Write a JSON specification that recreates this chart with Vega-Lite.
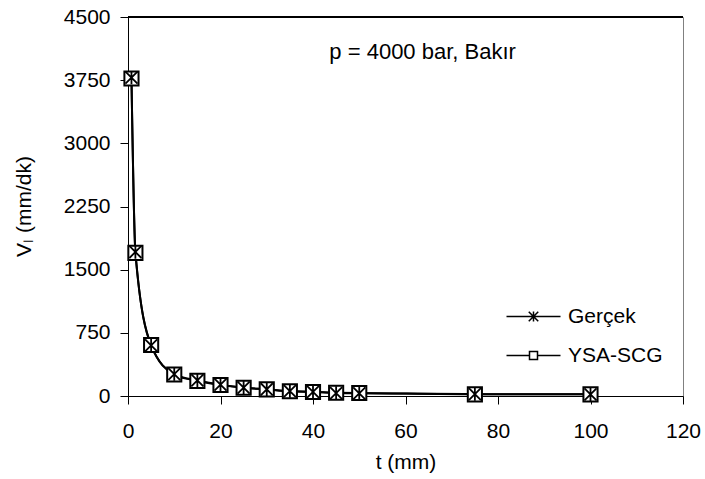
{
  "$schema": "https://vega.github.io/schema/vega-lite/v6.json",
  "width": 555,
  "height": 379,
  "autosize": "none",
  "padding": {"left": 128, "top": 17, "right": 22, "bottom": 83},
  "background": "white",
  "config": {
    "font": "Liberation Sans",
    "view": {"stroke": "#808080", "strokeWidth": 1},
    "axis": {
      "grid": false,
      "domainColor": "black",
      "domainWidth": 1,
      "tickColor": "black",
      "tickWidth": 1,
      "tickSize": 8,
      "labelColor": "black",
      "labelFontSize": 21,
      "titleColor": "black",
      "titleFontSize": 21,
      "titleFontWeight": "normal",
      "labelFlush": false,
      "labelOverlap": false
    }
  },
  "data": {
    "values": [
      {"series": "Gerçek", "t": 0.75, "v": 3780},
      {"series": "Gerçek", "t": 1.6, "v": 1710},
      {"series": "Gerçek", "t": 5, "v": 600},
      {"series": "Gerçek", "t": 10, "v": 260},
      {"series": "Gerçek", "t": 15, "v": 185},
      {"series": "Gerçek", "t": 20, "v": 135},
      {"series": "Gerçek", "t": 25, "v": 100},
      {"series": "Gerçek", "t": 30, "v": 80},
      {"series": "Gerçek", "t": 35, "v": 58},
      {"series": "Gerçek", "t": 40, "v": 50},
      {"series": "Gerçek", "t": 45, "v": 35},
      {"series": "Gerçek", "t": 50, "v": 32},
      {"series": "Gerçek", "t": 75, "v": 22},
      {"series": "Gerçek", "t": 100, "v": 20},
      {"series": "YSA-SCG", "t": 0.75, "v": 3770},
      {"series": "YSA-SCG", "t": 1.6, "v": 1700},
      {"series": "YSA-SCG", "t": 5, "v": 605},
      {"series": "YSA-SCG", "t": 10, "v": 255},
      {"series": "YSA-SCG", "t": 15, "v": 180},
      {"series": "YSA-SCG", "t": 20, "v": 130},
      {"series": "YSA-SCG", "t": 25, "v": 98},
      {"series": "YSA-SCG", "t": 30, "v": 78},
      {"series": "YSA-SCG", "t": 35, "v": 56},
      {"series": "YSA-SCG", "t": 40, "v": 48},
      {"series": "YSA-SCG", "t": 45, "v": 38},
      {"series": "YSA-SCG", "t": 50, "v": 36},
      {"series": "YSA-SCG", "t": 75, "v": 20},
      {"series": "YSA-SCG", "t": 100, "v": 20}
    ]
  },
  "layer": [
    {
      "mark": {"type": "line", "interpolate": "monotone", "color": "black", "strokeWidth": 2},
      "encoding": {
        "x": {
          "field": "t", "type": "quantitative",
          "scale": {"domain": [0, 120], "nice": false},
          "axis": {
            "title": "t (mm)",
            "values": [0, 20, 40, 60, 80, 100, 120],
            "format": "d",
            "labelPadding": 16,
            "titleBaseline": "alphabetic",
            "titleY": 72
          }
        },
        "y": {
          "field": "v", "type": "quantitative",
          "scale": {"domain": [0, 4500], "nice": false},
          "axis": {
            "title": "Vₗ (mm/dk)",
            "values": [0, 750, 1500, 2250, 3000, 3750, 4500],
            "format": "d",
            "labelPadding": 10,
            "titleBaseline": "alphabetic",
            "titleX": -98,
            "titleY": 189
          }
        },
        "detail": {"field": "series", "type": "nominal"}
      }
    },
    {
      "transform": [{"filter": "datum.series === 'YSA-SCG'"}],
      "mark": {"type": "point", "shape": "square", "size": 200, "filled": true, "fill": "white", "stroke": "black", "strokeWidth": 2, "opacity": 1},
      "encoding": {
        "x": {"field": "t", "type": "quantitative"},
        "y": {"field": "v", "type": "quantitative"}
      }
    },
    {
      "transform": [{"filter": "datum.series === 'Gerçek'"}],
      "mark": {"type": "point", "shape": "M0,-0.95V0.95M-0.85,-0.85L0.85,0.85M-0.85,0.85L0.85,-0.85", "size": 200, "filled": false, "stroke": "black", "strokeWidth": 1.8, "opacity": 1},
      "encoding": {
        "x": {"field": "t", "type": "quantitative"},
        "y": {"field": "v", "type": "quantitative"}
      }
    },
    {
      "mark": {"type": "rule", "color": "black", "strokeWidth": 1},
      "encoding": {"y": {"datum": 4500}}
    },
    {
      "data": {"values": [{"label": "p = 4000 bar, Bakır", "t": 63.7, "v": 4005}]},
      "mark": {"type": "text", "fontSize": 22, "align": "center", "baseline": "alphabetic", "color": "black"},
      "encoding": {
        "x": {"field": "t", "type": "quantitative"},
        "y": {"field": "v", "type": "quantitative"},
        "text": {"field": "label"}
      }
    },
    {
      "transform": [{"filter": "datum.t < 0"}],
      "mark": {"type": "point", "filled": false, "color": "black", "strokeWidth": 1.5, "opacity": 1},
      "encoding": {
        "shape": {
          "field": "series", "type": "nominal",
          "scale": {
            "domain": ["Gerçek", "YSA-SCG"],
            "range": [
              "M-5.4,0H5.4M0,-1V1M-0.95,-0.95L0.95,0.95M-0.95,0.95L0.95,-0.95",
              "M-5.4,0H-0.8M0.8,0H5.4M-0.8,-0.8H0.8V0.8H-0.8Z"
            ]
          },
          "legend": {
            "title": null,
            "orient": "none",
            "legendX": 395,
            "legendY": 289,
            "padding": 0,
            "symbolSize": 100,
            "symbolOffset": 0,
            "symbolType": "circle",
            "symbolStrokeColor": "black",
            "symbolStrokeWidth": 1.5,
            "symbolOpacity": 1,
            "labelOffset": 24,
            "labelFontSize": 21,
            "labelColor": "black",
            "rowPadding": 17
          }
        }
      }
    }
  ]
}
